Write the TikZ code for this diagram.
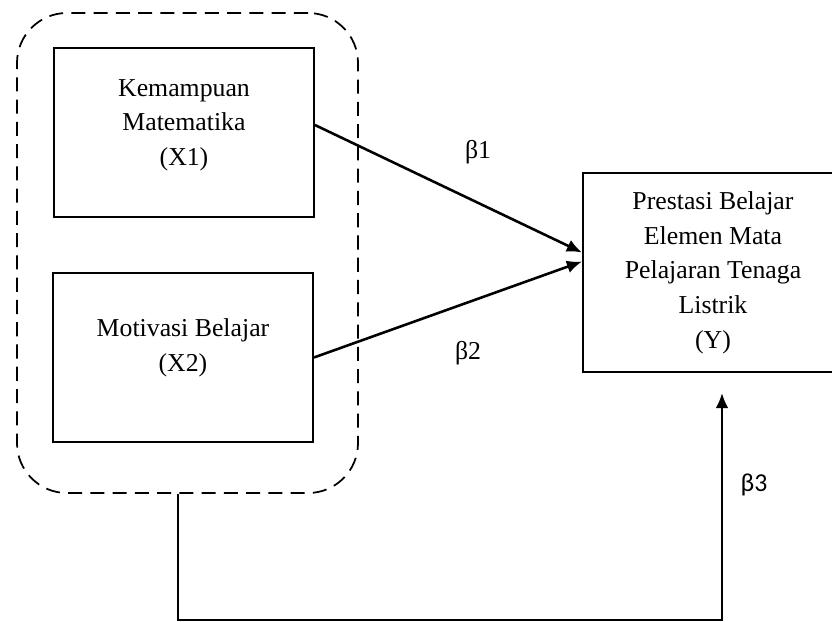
\documentclass[tikz,border=0pt]{standalone}
\usepackage{fontspec}
\setmainfont{Liberation Serif}
\newfontfamily\carlito{Carlito}
\usetikzlibrary{arrows.meta}

\begin{document}
\begin{tikzpicture}[x=0.03cm,y=-0.03cm,
  txt/.style={font=\fontsize{22pt}{29.6pt}\selectfont,align=center},
  var/.style={draw,line width=1.6pt,minimum width=7.8cm,minimum height=5.07cm},
  arr/.style={line width=2.2pt,-{Latex[length=13pt,width=11pt]}}]
\useasboundingbox (0,0) rectangle (832,622);
\node (g) [draw,dashed,dash pattern=on 12pt off 7pt,line width=1.5pt,rounded corners=1.5cm,
  minimum width=10.23cm,minimum height=14.4cm] at (187.5,253) {};
\node (x1) [var] at (184,132.5) {};
\node (x1t) [txt] at (184,125) {Kemampuan\\Matematika\\(X1)};
\node (x2) [var] at (183,357.5) {};
\node (x2t) [txt] at (183,348) {Motivasi Belajar\\(X2)};
\node (y) [var,txt,minimum height=5.97cm] at (713,272.5)
  {Prestasi Belajar\\Elemen Mata\\Pelajaran Tenaga\\Listrik\\(Y)};
\node (b1) [txt] at (478,152) {β1};
\node (b2) [txt] at (468,353) {β2};
\node (b3) [txt,font=\carlito\fontsize{22pt}{26pt}\selectfont] at (754,485) {β3};
\coordinate (lo) at (178,620);
\coordinate (ro) at (722,620);
\coordinate (tip) at (722,393);
\draw [arr] ([yshift=0.225cm]x1.east) -- ([yshift=0.6cm]y.west);
\draw [arr] (x2.east) -- ([yshift=0.33cm]y.west);
\draw [arr,line width=1.8pt] (g.south -| lo) -- (lo) -- (ro) -- (tip);
\end{tikzpicture}
\end{document}
